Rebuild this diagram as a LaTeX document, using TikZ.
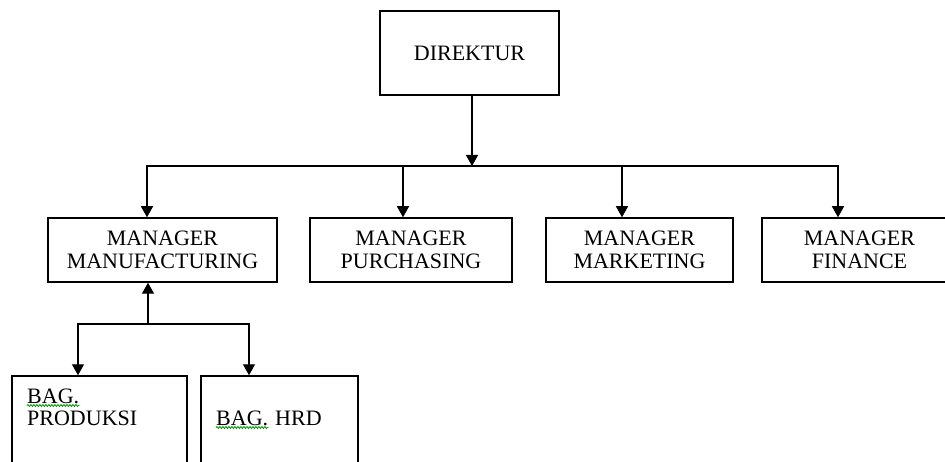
\documentclass[tikz,border=0pt]{standalone}
\usepackage{fontspec}
\setmainfont{Liberation Serif}
\usetikzlibrary{arrows.meta,decorations.pathmorphing}
\begin{document}
\begin{tikzpicture}[x=1pt,y=-1pt,
  box/.style={draw=black,line width=1.5pt,rectangle,inner sep=0pt,align=center,font=\fontsize{22}{23}\selectfont},
  lbl/.style={inner sep=0pt,anchor=base west,font=\fontsize{22}{23}\selectfont},
  conn/.style={line width=1.4pt,black,line cap=rect},
  arr/.style={conn,-{Triangle[width=12pt,length=11pt]}},
  spell/.style={draw=green!60!black,line width=0.8pt,decorate,decoration={snake,amplitude=1pt,segment length=3pt}}
]
\useasboundingbox (0,0) rectangle (945,462);
\clip (0,0) rectangle (945,462);
\fill[white] (0,0) rectangle (945,462);

% boxes
\node[box,minimum width=179pt,minimum height=84pt] (dir) at (469.5,53) {DIREKTUR};

\node[box,minimum width=229pt,minimum height=64pt] (mfg) at (162.5,250) {MANAGER\\MANUFACTURING};
\node[box,minimum width=202pt,minimum height=64pt] (pur) at (411,250) {MANAGER\\PURCHASING};
\node[box,minimum width=187pt,minimum height=64pt] (mkt) at (639.5,250) {MANAGER\\MARKETING};
\node[box,minimum width=195pt,minimum height=64pt] (fin) at (859.5,250) {MANAGER\\FINANCE};

\node[box,minimum width=175pt,minimum height=110pt] (prod) at (99.5,431) {};
\node[box,minimum width=157pt,minimum height=110pt] (hrd) at (279.5,431) {};

% labels inside bottom boxes
\node[lbl] (prodA) at (27,403) {BAG.};
\node[lbl] (prodB) at (27,425) {PRODUKSI};
\node[lbl] (hrdA) at (216,425) {BAG.};
\node[lbl] (hrdB) at (275,425) {HRD};

\draw[spell] ([yshift=-2.5pt]prodA.base west) -- ([yshift=-2.5pt]prodA.base east);
\draw[spell] ([yshift=-2.5pt]hrdA.base west) -- ([yshift=-2.5pt]hrdA.base east);

% top connectors
\coordinate (bL) at (147,166);
\coordinate (bR) at (838,166);
\coordinate (bD) at (472,166);
\coordinate (bP) at (403,166);
\coordinate (bM) at (622,166);
\draw[arr] (dir.south -| bD) -- (bD);
\draw[conn] (bL) -- (bR);
\draw[arr] (bL) -- (bL |- mfg.north);
\draw[arr] (bP) -- (bP |- pur.north);
\draw[arr] (bM) -- (bM |- mkt.north);
\draw[arr] (bR) -- (bR |- fin.north);

% bottom connectors
\coordinate (cU) at (148,324);
\coordinate (cL) at (78,324);
\coordinate (cR) at (249,324);
\draw[arr] (cU) -- (cU |- mfg.south);
\draw[conn] (cL) -- (cR);
\draw[arr] (cL) -- (cL |- prod.north);
\draw[arr] (cR) -- (cR |- hrd.north);
\end{tikzpicture}
\end{document}
